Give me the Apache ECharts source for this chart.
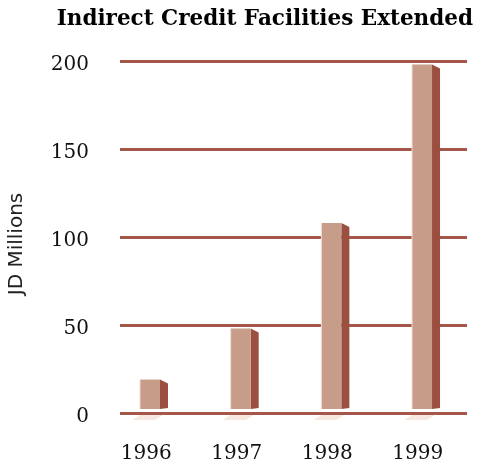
<!DOCTYPE html>
<html>
<head>
<meta charset="utf-8">
<script src="https://cdn.jsdelivr.net/npm/echarts@6/dist/echarts.min.js"></script>
<style>
html,body{margin:0;padding:0;background:#fff;}
#chart{width:484px;height:465px;}
</style>
</head>
<body>
<div id="chart"></div>
<script>
const categories = ['1996', '1997', '1998', '1999'];
const values = [19, 48, 108, 198];
const yTicks = [0, 50, 100, 150, 200];

const chart = echarts.init(document.getElementById('chart'));

const FRONT = '#c79d89';
const SIDE = '#9a4f40';
const SHADOW = '#f7e8df';

function renderBar(params, api) {
  const idx = api.value(0);
  const val = api.value(1);
  const top = api.coord([idx, val]);
  const base = api.coord([idx, 0]);
  const c = top[0];
  const bottom = base[1] - 4;
  const t = top[1];
  return {
    type: 'group',
    children: [
      {
        type: 'polygon',
        shape: { points: [[c - 10, base[1] + 2], [c + 13, base[1] + 2], [c + 5, base[1] + 7], [c - 18, base[1] + 7]] },
        style: { fill: SHADOW }
      },
      {
        type: 'polygon',
        shape: { points: [[c + 10, t], [c + 18, t + 4], [c + 18, bottom - 1], [c + 10, bottom]] },
        style: { fill: SIDE }
      },
      {
        type: 'rect',
        shape: { x: c - 10, y: t, width: 20, height: bottom - t },
        style: { fill: FRONT }
      },
      {
        type: 'line',
        shape: { x1: c - 10, y1: t, x2: c - 10, y2: bottom },
        style: { stroke: '#f0ddd4', lineWidth: 1 }
      }
    ]
  };
}

const option = {
  animation: false,
  backgroundColor: '#ffffff',
  title: {
    text: 'Indirect Credit Facilities Extended',
    right: 6,
    top: 3,
    textStyle: {
      fontFamily: 'DejaVu Serif',
      fontWeight: 'bold',
      fontSize: 21.5,
      color: '#000'
    }
  },
  grid: [
    { left: 120, right: 17, top: 61, bottom: 52, containLabel: false, outerBoundsMode: 'none' },
    { left: 101, right: 21, top: 61, bottom: 52, containLabel: false, outerBoundsMode: 'none' }
  ],
  xAxis: [
    { type: 'value', gridIndex: 0, min: -0.331, max: 3.496, show: false },
    {
      type: 'category', gridIndex: 1, data: categories,
      axisLine: { show: false }, axisTick: { show: false },
      axisLabel: { margin: 31, fontFamily: 'DejaVu Serif', fontSize: 20, color: '#111' }
    }
  ],
  yAxis: [
    {
      type: 'value', gridIndex: 0, min: yTicks[0], max: yTicks[yTicks.length - 1], interval: 50,
      axisLine: { show: false }, axisTick: { show: false },
      axisLabel: { margin: 31, fontFamily: 'DejaVu Serif', fontSize: 20, color: '#111', verticalAlign: 'top', lineHeight: 7 },
      splitLine: { show: true, lineStyle: { color: '#a5584a', width: 3 } },
      name: 'JD Millions',
      nameLocation: 'middle',
      nameGap: 93,
      nameTextStyle: { fontFamily: 'DejaVu Sans', fontSize: 20, color: '#222', padding: [0, 14, 0, 0] }
    },
    { type: 'value', gridIndex: 1, min: 0, max: 200, show: false }
  ],
  series: [
    {
      type: 'custom',
      xAxisIndex: 0,
      yAxisIndex: 0,
      renderItem: renderBar,
      data: values.map((v, i) => [i, v]),
      z: 5
    }
  ]
};
chart.setOption(option);
</script>
</body>
</html>
